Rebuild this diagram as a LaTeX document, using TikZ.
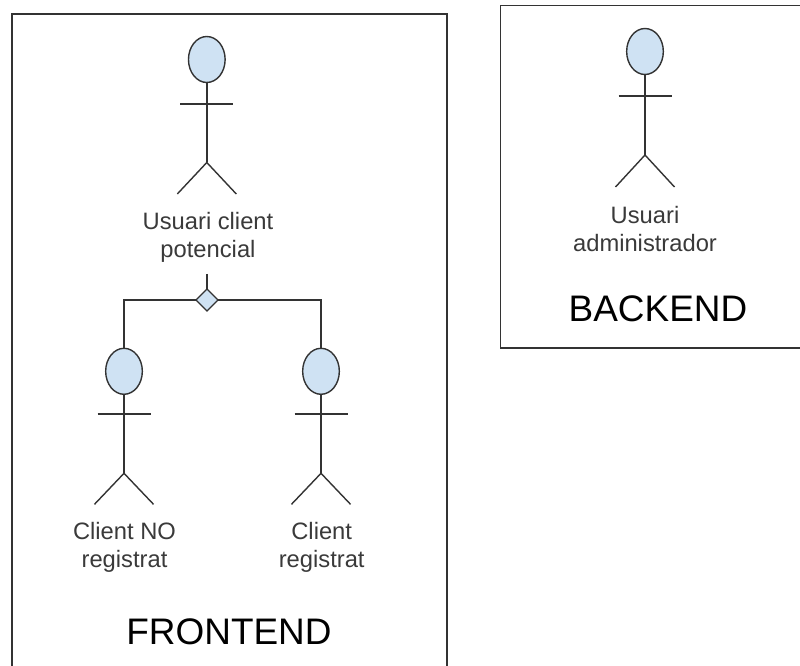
\documentclass[tikz,border=0pt]{standalone}
\usepackage{fontspec}
\setmainfont{Liberation Sans}
\usetikzlibrary{shapes.geometric}
\definecolor{linec}{HTML}{333333}
\definecolor{fillc}{HTML}{CFE2F3}
\definecolor{labelc}{HTML}{3A3A3A}
\tikzset{
  x=0.75pt,y=-0.75pt,
  wire/.style={draw=linec,line width=1.05pt},
  frame/.style={draw=linec,line width=1.05pt},
  head/.style={ellipse,draw=linec,fill=fillc,line width=1.05pt,minimum width=27.5pt,minimum height=34.5pt,inner sep=0pt,outer sep=0pt},
  gate/.style={diamond,draw=linec,fill=fillc,line width=1.05pt,minimum width=16.5pt,minimum height=16.5pt,inner sep=0pt,outer sep=0pt},
  actorlabel/.style={text=labelc,font=\fontsize{17.8pt}{20.8pt}\selectfont,align=center,inner sep=0pt},
  titlelabel/.style={text=black,font=\fontsize{27.7pt}{32pt}\selectfont,inner sep=0pt}
}
% name, x, head centre y, arm y, hip y, foot y
\newcommand{\stickman}[6]{%
  \node[head] (#1h) at (#2,#3) {};
  \coordinate (#1hip) at (#2,#5);
  \coordinate (#1al) at (#2-26.5,#4);
  \coordinate (#1ar) at (#2+26.5,#4);
  \coordinate (#1fl) at (#2-29.5,#6);
  \coordinate (#1fr) at (#2+29.5,#6);
  \draw[wire] (#1h.south) -- (#1hip);
  \draw[wire] (#1al) -- (#1ar);
  \draw[wire] (#1fl) -- (#1hip) -- (#1fr);
}
\begin{document}
\begin{tikzpicture}
\useasboundingbox (0,0) rectangle (800,666);
\fill[white] (0,0) rectangle (800,666);
\clip (0,0) rectangle (800,666);
\draw[frame] (12,14) rectangle (447,690);
\draw[frame] (500.5,5.5) rectangle (820,348);
\stickman{top}{206.8}{59.5}{104}{162.5}{194}
\stickman{adm}{645}{51.5}{96}{155}{187}
\stickman{lft}{124}{371.3}{414}{473.3}{504.3}
\stickman{rgt}{321}{371.3}{414}{473.3}{504.3}
\node[actorlabel] (toplabel) at (208,237.5) {Usuari client\\potencial};
\node[actorlabel] (admlabel) at (645,229) {Usuari\\administrador};
\node[actorlabel] (lftlabel) at (124.5,547.5) {Client NO\\registrat};
\node[actorlabel] (rgtlabel) at (321.7,547.5) {Client\\registrat};
\node[titlelabel] (front) at (229,632) {FRONTEND};
\node[titlelabel] (back) at (658,309) {BACKEND};
\node[gate] (choice) at (207,300) {};
\coordinate (stub) at (207,274);
\draw[wire] (stub) -- (choice.north);
\draw[wire] (choice.west) -| (lfth.north);
\draw[wire] (choice.east) -| (rgth.north);
\end{tikzpicture}
\end{document}
